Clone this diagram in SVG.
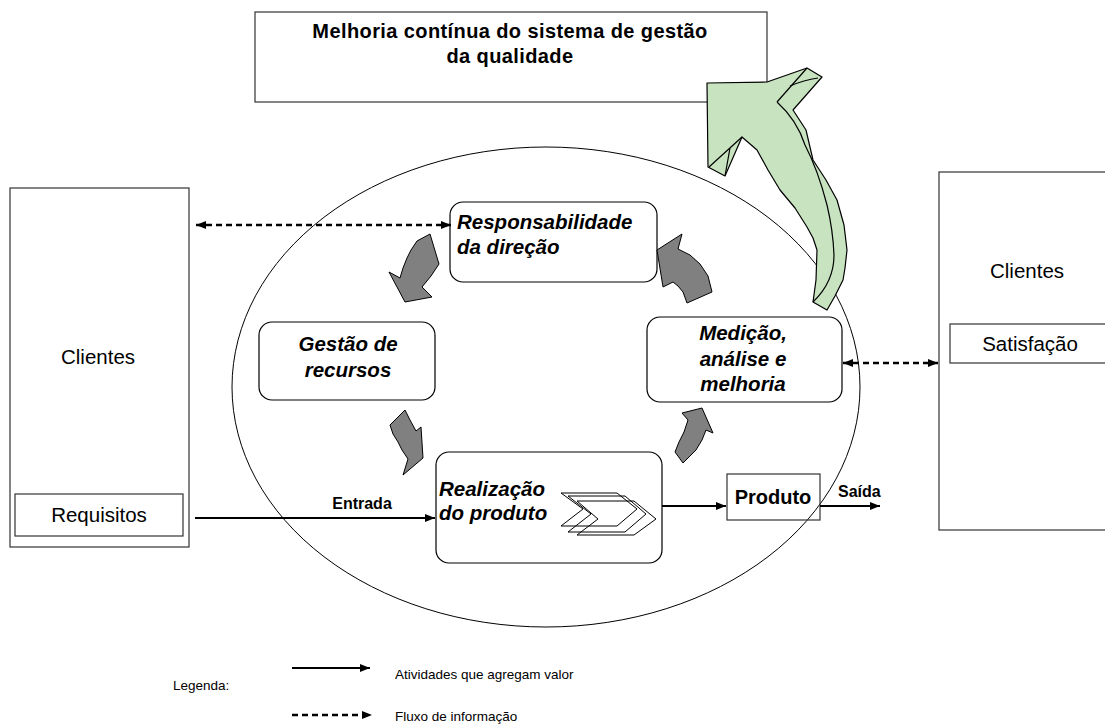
<svg xmlns="http://www.w3.org/2000/svg" width="1105" height="725" viewBox="0 0 1105 725">
<defs>
<marker id="ah" markerWidth="10" markerHeight="8" refX="10" refY="4" orient="auto" markerUnits="userSpaceOnUse">
<path d="M0,0 L10,4 L0,8 Z" fill="#000"/>
</marker>
<marker id="ahs" markerWidth="10" markerHeight="8" refX="0" refY="4" orient="auto" markerUnits="userSpaceOnUse">
<path d="M10,0 L0,4 L10,8 Z" fill="#000"/>
</marker>
<style>
.box{fill:#fff;stroke:#333;stroke-width:1.2}
.rbox{fill:#fff;stroke:#000;stroke-width:1.2}
.t{font-family:"Liberation Sans",Arial,sans-serif;fill:#000}
.bi{font-weight:bold;font-style:italic;font-size:20.5px}
.reg{font-size:20.5px}
.b{font-weight:bold}
.solid{stroke:#000;stroke-width:2;fill:none}
.dash{stroke:#000;stroke-width:2.5;fill:none;stroke-dasharray:6,4}
.grey{fill:#808080;stroke:#000;stroke-width:1}
.green{fill:#c8e3c0;stroke:#000;stroke-width:1.2;stroke-linejoin:round}
.chev{fill:none;stroke:#000;stroke-width:1}
.leg{font-size:13.5px}
</style>
</defs>
<rect width="1105" height="725" fill="#fff"/>

<g id="title">
<rect class="box" x="255" y="12" width="512" height="90"/>
<text class="t b" x="510" y="38" font-size="20" letter-spacing="0.4" text-anchor="middle">Melhoria contínua do sistema de gestão</text>
<text class="t b" x="510" y="63" font-size="20" letter-spacing="0.4" text-anchor="middle">da qualidade</text>
</g>

<g id="cycle">
<ellipse cx="546" cy="387" rx="314" ry="240" fill="none" stroke="#000" stroke-width="1"/>
</g>

<g id="clientes-left">
<rect class="box" x="10" y="188" width="179" height="359"/>
<text class="t reg" x="98" y="364" text-anchor="middle">Clientes</text>
<rect class="box" x="15" y="494" width="168" height="42"/>
<text class="t reg" x="99" y="522" text-anchor="middle">Requisitos</text>
</g>

<g id="clientes-right">
<rect class="box" x="939" y="172" width="175" height="358"/>
<text class="t reg" x="1027" y="278" text-anchor="middle">Clientes</text>
<rect class="box" x="950" y="324" width="165" height="39"/>
<text class="t reg" x="1030" y="351" text-anchor="middle">Satisfação</text>
</g>

<g id="responsabilidade">
<rect class="rbox" x="450" y="202" width="207" height="80" rx="13"/>
<text class="t bi" x="457" y="229">Responsabilidade</text>
<text class="t bi" x="457" y="254">da direção</text>
</g>

<g id="gestao">
<rect class="rbox" x="259" y="322" width="176" height="78" rx="13"/>
<text class="t bi" x="348" y="351" text-anchor="middle">Gestão de</text>
<text class="t bi" x="348" y="377" text-anchor="middle">recursos</text>
</g>

<g id="medicao">
<rect class="rbox" x="647" y="317" width="195" height="85" rx="13"/>
<text class="t bi" x="743" y="340" text-anchor="middle">Medição,</text>
<text class="t bi" x="743" y="366" text-anchor="middle">análise e</text>
<text class="t bi" x="743" y="391" text-anchor="middle">melhoria</text>
</g>

<g id="realizacao">
<rect class="rbox" x="436" y="452" width="226" height="111" rx="13"/>
<text class="t bi" x="439" y="496">Realização</text>
<text class="t bi" x="439" y="520">do produto</text>
<path class="chev" d="M561,493 L617,493 L637,509 L617,526 L561,526 L583,509 Z"/>
<path class="chev" d="M568,496 L625,496 L646,514 L625,532 L568,532 L591,514 Z"/>
<path class="chev" d="M577,501 L634,501 L656,519 L634,535 L577,535 L598,519 Z"/>
</g>

<g id="produto">
<rect x="727" y="474" width="93" height="46" fill="none" stroke="#333" stroke-width="1.2"/>
<text class="t b" x="773" y="504" font-size="20" text-anchor="middle">Produto</text>
</g>

<g id="cycle-arrows">
<path class="grey" d="M430,234 L433,244 L439,264 L431,276 L422,287 L432,297 L405,302 L389,272 L400,278 L403,268 L407,258 L411,250 L417,241 Z"/>
<path class="grey" d="M657,250 L682,234 L678,249 L690,255 L700,264 L708,276 L712,292 L687,303 L683,292 L678,286 L673,282 L663,287 Z"/>
<path class="grey" d="M390,425 L405,410 L410,420 L416,431 L421,427 L423,458 L403,475 L408,459 L402,450 L398,442 L393,434 Z"/>
<path class="grey" d="M702,408 L713,433 L706,430 L702,440 L696,450 L683,463 L675,452 L679,442 L684,432 L688,420 L682,413 Z"/>
</g>

<g id="improvement-arrow">
<path class="green" d="M707,83 L767,82 L807,68 L822,77 L793,110 L806,130 L813,160 L826,180 L837,200 L844,225 L847,250 L845,268 L843,280 L835,296 L827,310 L813,302 L816,280 L817,250 L813,238 L807,227 L795,208 L780,190 L768,170 L757,150 L742,137 L725,176 L708,167 Z"/>
<path d="M777,102 L807,68 M777,102 Q797,120 805,145 Q818,170 827,205 Q833,230 834,255 Q834,282 813,302" fill="none" stroke="#000" stroke-width="1.2"/>
<path d="M790,86 Q804,80 818,78 M709,167 L742,137 M730,148 L725,176" fill="none" stroke="#000" stroke-width="1.2"/>
</g>

<g id="connectors">
<line class="dash" x1="196" y1="225" x2="451" y2="225" marker-start="url(#ahs)" marker-end="url(#ah)"/>
<line class="dash" x1="843" y1="363" x2="938" y2="363" marker-start="url(#ahs)" marker-end="url(#ah)"/>
<line class="solid" x1="195" y1="518" x2="435" y2="518" marker-end="url(#ah)"/>
<text class="t b" x="362" y="509" font-size="16" text-anchor="middle">Entrada</text>
<line class="solid" x1="662" y1="506" x2="726" y2="506" marker-end="url(#ah)"/>
<line class="solid" x1="820" y1="506" x2="880" y2="506" marker-end="url(#ah)"/>
<text class="t b" x="838" y="497" font-size="16">Saída</text>
</g>

<g id="legend">
<text class="t leg" x="173" y="690">Legenda:</text>
<line class="solid" x1="292" y1="668" x2="370" y2="668" marker-end="url(#ah)"/>
<text class="t leg" x="395" y="679">Atividades que agregam valor</text>
<line class="dash" x1="292" y1="715" x2="372" y2="715" marker-end="url(#ah)"/>
<text class="t leg" x="395" y="721">Fluxo de informação</text>
</g>
</svg>
